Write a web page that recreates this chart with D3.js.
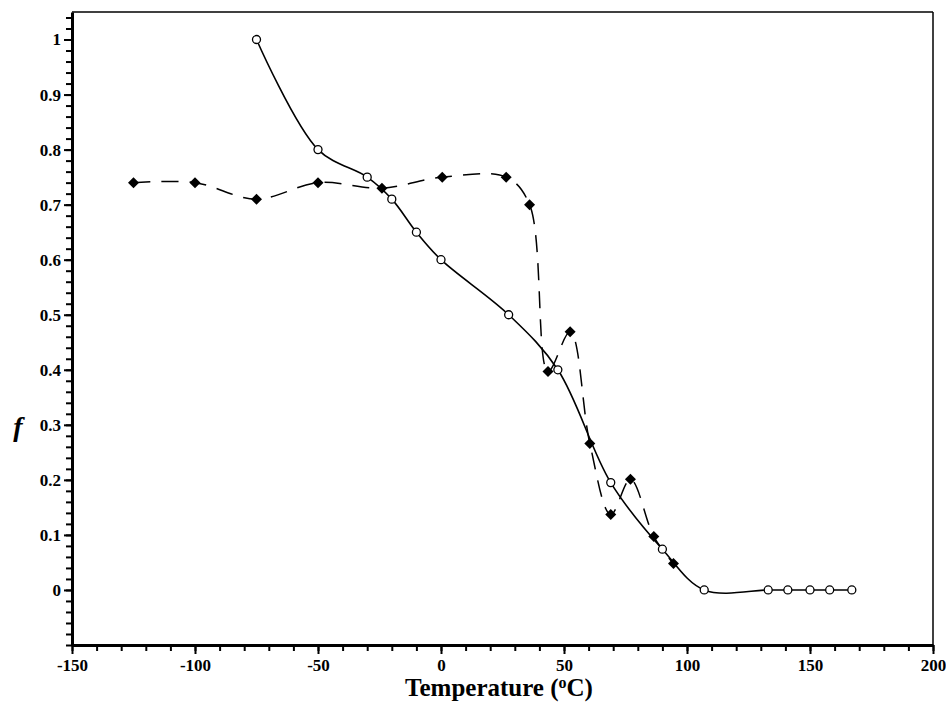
<!DOCTYPE html>
<html>
<head>
<meta charset="utf-8">
<script src="https://cdn.jsdelivr.net/npm/d3@7"></script>
<style>
  body { margin: 0; background: #fff; }
  svg { display: block; font-family: "Liberation Serif", "DejaVu Serif", serif; }
</style>
</head>
<body>
<svg id="chart"></svg>
<script>
// open circles, solid curve
const circleT = [-75, -50, -30, -20, -10, 0, 27.5, 47.5, 69, 90, 107, 133, 141, 150, 158, 167];
const circleF = [1.0, 0.80, 0.75, 0.71, 0.65, 0.60, 0.50, 0.40, 0.195, 0.074, 0, 0, 0, 0, 0, 0];

// filled diamonds, dashed curve
const diamondT = [-125, -100, -75, -50, -24, 0.5, 26.5, 36, 43.5, 52.5, 60.5, 69, 77, 86.5, 94.5];
const diamondF = [0.74, 0.74, 0.71, 0.74, 0.73, 0.75, 0.75, 0.70, 0.397, 0.469, 0.266, 0.137, 0.201, 0.097, 0.048];

const xMajor = [-150, -100, -50, 0, 50, 100, 150, 200];
const yMajor = [0, 0.1, 0.2, 0.3, 0.4, 0.5, 0.6, 0.7, 0.8, 0.9, 1];

const width = 946, height = 702;
const margin = {top: 12, right: 13, bottom: 57, left: 72};

const svg = d3.select("#chart")
    .attr("width", width)
    .attr("height", height);

const x = d3.scaleLinear()
    .domain([-150, 200])
    .range([margin.left, width - margin.right]);

const y = d3.scaleLinear()
    .domain([-0.1, 1.05])
    .range([height - margin.bottom, margin.top]);

// frame (top and right thinner)
svg.append("line")
    .attr("x1", x(-150)).attr("x2", x(200))
    .attr("y1", y(1.05)).attr("y2", y(1.05))
    .attr("stroke", "#000").attr("stroke-width", 1.5);
svg.append("line")
    .attr("x1", x(200)).attr("x2", x(200))
    .attr("y1", y(1.05)).attr("y2", y(-0.1))
    .attr("stroke", "#000").attr("stroke-width", 1.5);

// minor ticks
const xMinor = d3.range(-150, 201, 10);
const yMinor = d3.range(-10, 105, 2).map(d => d / 100);

svg.append("g")
    .attr("transform", `translate(0,${y(-0.1)})`)
    .call(d3.axisBottom(x).tickValues(xMinor).tickSize(6).tickFormat(""))
    .call(g => g.selectAll("line").attr("stroke-width", 2))
    .call(g => g.select(".domain").remove());

svg.append("g")
    .attr("transform", `translate(${x(-150)},0)`)
    .call(d3.axisLeft(y).tickValues(yMinor).tickSize(6).tickFormat(""))
    .call(g => g.selectAll("line").attr("stroke-width", 2))
    .call(g => g.select(".domain").remove());

// major ticks + labels
const xAxis = svg.append("g")
    .attr("transform", `translate(0,${y(-0.1)})`)
    .call(d3.axisBottom(x).tickValues(xMajor).tickSize(9).tickPadding(5).tickSizeOuter(0)
        .tickFormat(d => String(d).replace("\u2212", "-")))
    .call(g => g.select(".domain").attr("stroke-width", 3));
xAxis.selectAll("line").attr("stroke-width", 2);
xAxis.selectAll("text")
    .style("font-family", "'Liberation Serif', serif")
    .style("font-weight", "bold")
    .style("font-size", "17px")
    .attr("fill", "#000");

const yAxis = svg.append("g")
    .attr("transform", `translate(${x(-150)},0)`)
    .call(d3.axisLeft(y).tickValues(yMajor).tickSize(8).tickPadding(3).tickSizeOuter(0)
        .tickFormat(d => d === 0 || d === 1 ? String(d) : d3.format(".1f")(d)))
    .call(g => g.select(".domain").attr("stroke-width", 3));
yAxis.selectAll("line").attr("stroke-width", 2);
yAxis.selectAll("text")
    .style("font-family", "'Liberation Serif', serif")
    .style("font-weight", "bold")
    .style("font-size", "17px")
    .attr("fill", "#000");

// axis titles
const xt = svg.append("text")
    .attr("x", 499)
    .attr("y", 696)
    .attr("text-anchor", "middle")
    .attr("font-weight", "bold")
    .attr("font-size", 25)
    .text("Temperature (");
xt.append("tspan").attr("baseline-shift", "super").attr("font-size", 16).text("o");
xt.append("tspan").text("C)");

svg.append("text")
    .attr("x", 18)
    .attr("y", 436)
    .attr("text-anchor", "middle")
    .attr("font-weight", "bold")
    .attr("font-style", "italic")
    .attr("font-size", 28)
    .text("f");

// curves
const line = d3.line()
    .x(d => x(d[0]))
    .y(d => y(d[1]))
    .curve(d3.curveCatmullRom.alpha(0.5));

const circles = circleT.map((t, i) => [t, circleF[i]]);
const diamonds = diamondT.map((t, i) => [t, diamondF[i]]);

svg.append("path")
    .datum(diamonds)
    .attr("d", line)
    .attr("fill", "none")
    .attr("stroke", "#000")
    .attr("stroke-width", 1.5)
    .attr("stroke-dasharray", "17,11");

svg.append("path")
    .datum(circles)
    .attr("d", line)
    .attr("fill", "none")
    .attr("stroke", "#000")
    .attr("stroke-width", 1.6);

// markers
svg.append("g")
    .selectAll("path")
    .data(diamonds)
    .join("path")
    .attr("transform", d => `translate(${x(d[0])},${y(d[1])})`)
    .attr("d", "M0,-5.5L5.5,0L0,5.5L-5.5,0Z")
    .attr("fill", "#000");

svg.append("g")
    .selectAll("circle")
    .data(circles)
    .join("circle")
    .attr("cx", d => x(d[0]))
    .attr("cy", d => y(d[1]))
    .attr("r", 4)
    .attr("fill", "#fff")
    .attr("stroke", "#000")
    .attr("stroke-width", 1.3);
</script>
</body>
</html>
